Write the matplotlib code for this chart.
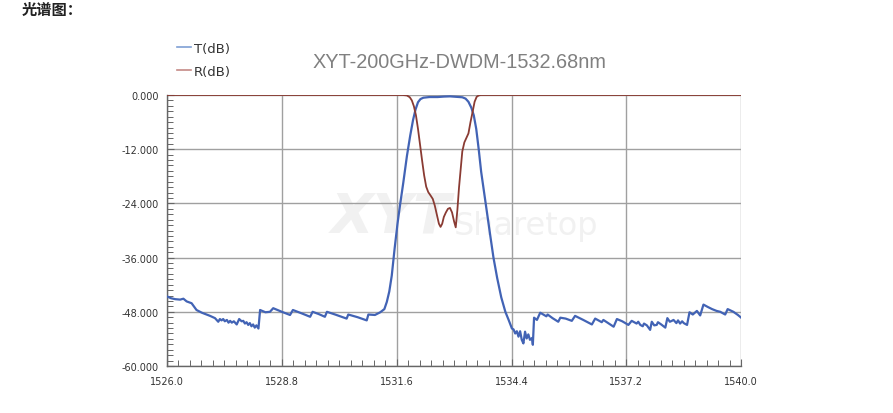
import matplotlib
matplotlib.use("Agg")
import matplotlib.pyplot as plt
from matplotlib.ticker import MultipleLocator, FormatStrFormatter
import numpy as np

# ---- data ----
t_wl = [1526.00, 1526.10, 1526.20, 1526.32, 1526.40, 1526.48, 1526.60, 1526.72, 1526.85,
        1527.05, 1527.17, 1527.25, 1527.29, 1527.33, 1527.37, 1527.41, 1527.46, 1527.50, 1527.54,
        1527.58, 1527.63, 1527.70, 1527.76, 1527.82, 1527.86, 1527.90, 1527.94, 1527.98,
        1528.02, 1528.06, 1528.10, 1528.14, 1528.18, 1528.23, 1528.27, 1528.40, 1528.51, 1528.59,
        1528.80, 1529.00, 1529.07, 1529.30, 1529.49, 1529.55, 1529.70, 1529.85, 1529.90,
        1530.10, 1530.38, 1530.42, 1530.65, 1530.87, 1530.91, 1531.07, 1531.20, 1531.30,
        1531.36, 1531.42, 1531.48, 1531.55, 1531.62, 1531.68, 1531.76, 1531.85, 1531.93,
        1532.00, 1532.06, 1532.12, 1532.18, 1532.25, 1532.40, 1532.60, 1532.75, 1532.90,
        1533.05, 1533.20, 1533.28, 1533.35, 1533.42, 1533.48, 1533.54, 1533.60, 1533.66,
        1533.73, 1533.80, 1533.88, 1533.96, 1534.05, 1534.15, 1534.25, 1534.33, 1534.41,
        1534.45, 1534.49, 1534.53, 1534.57, 1534.61, 1534.65, 1534.69, 1534.73, 1534.77,
        1534.81, 1534.85, 1534.90, 1534.92, 1534.95, 1535.02, 1535.10, 1535.25, 1535.28,
        1535.40, 1535.54, 1535.59, 1535.72, 1535.87, 1535.95, 1536.15, 1536.36, 1536.44,
        1536.60, 1536.64, 1536.89, 1536.97, 1537.10, 1537.25, 1537.33, 1537.45, 1537.49,
        1537.54, 1537.60, 1537.63, 1537.70, 1537.78, 1537.82, 1537.88, 1537.94, 1537.97,
        1538.05, 1538.15, 1538.20, 1538.26, 1538.31, 1538.35, 1538.42, 1538.46, 1538.51,
        1538.56, 1538.60, 1538.68, 1538.74, 1538.82, 1538.92, 1539.00, 1539.08, 1539.18,
        1539.29, 1539.40, 1539.49, 1539.61, 1539.67, 1539.81, 1539.92, 1540.00]
t_db = [-44.6, -45.0, -45.2, -45.3, -45.1, -45.7, -46.1, -47.6, -48.2,
        -48.9, -49.4, -50.2, -49.6, -49.9, -49.6, -50.1, -49.8, -50.4, -50.0,
        -50.4, -50.1, -50.8, -49.6, -50.1, -50.0, -50.6, -50.3, -50.9,
        -50.5, -51.2, -50.8, -51.5, -51.0, -51.7, -47.6, -48.1, -48.0, -47.2,
        -48.0, -48.7, -47.6, -48.4, -49.1, -48.0, -48.5, -49.1, -48.0,
        -48.6, -49.5, -48.6, -49.2, -49.9, -48.6, -48.7, -48.1, -47.4,
        -45.8, -43.5, -40.0, -34.0, -28.5, -24.5, -19.5, -13.5, -9.0,
        -5.5, -3.2, -1.6, -0.9, -0.6, -0.45, -0.45, -0.35, -0.3,
        -0.4, -0.5, -0.8, -1.5, -2.8, -4.5, -7.5, -12.0, -17.0,
        -21.5, -25.9, -31.0, -36.0, -40.5, -44.8, -48.0, -49.8, -51.7,
        -51.9, -52.8, -52.3, -53.5, -52.3, -54.2, -55.0, -52.4, -53.9,
        -53.0, -54.2, -53.8, -55.3, -49.3, -49.8, -48.2, -49.0, -48.6,
        -49.4, -50.2, -49.3, -49.5, -50.0, -48.9, -49.8, -50.8, -49.5,
        -50.3, -49.8, -51.3, -49.6, -50.1, -50.9, -50.0, -50.6, -50.2,
        -50.9, -51.2, -50.6, -51.0, -52.0, -50.2, -51.0, -50.9, -50.3,
        -50.8, -51.5, -49.4, -50.2, -50.0, -49.8, -50.5, -49.9, -50.6,
        -50.1, -50.5, -50.9, -48.1, -48.6, -47.8, -48.8, -46.4, -46.9,
        -47.4, -47.8, -48.0, -48.6, -47.4, -48.0, -48.7, -49.3]

r_wl = [1526.00, 1531.75, 1531.85, 1531.92, 1531.97, 1532.02, 1532.07, 1532.12, 1532.17,
        1532.22, 1532.27, 1532.32, 1532.37, 1532.43, 1532.48, 1532.53, 1532.58, 1532.63,
        1532.67, 1532.71, 1532.75, 1532.80, 1532.85, 1532.90, 1532.95, 1533.00, 1533.04,
        1533.08, 1533.12, 1533.16, 1533.20, 1533.25, 1533.30, 1533.35, 1533.40, 1533.45,
        1533.50, 1533.55, 1533.60, 1533.65, 1540.00]
r_db = [0.0, 0.0, -0.1, -0.5, -1.2, -2.5, -4.5, -7.5, -11.0,
        -14.5, -17.8, -20.3, -21.5, -22.3, -23.0, -24.5, -26.5, -28.5,
        -29.2, -28.5, -27.0, -26.0, -25.2, -25.0, -26.0, -28.0, -29.3,
        -25.5, -20.5, -16.5, -12.5, -10.5, -9.5, -8.5, -6.0, -3.8,
        -1.5, -0.4, -0.1, 0.0, 0.0]

x_ticks = [1526.0, 1528.8, 1531.6, 1534.4, 1537.2, 1540.0]
y_ticks = [0.0, -12.0, -24.0, -36.0, -48.0, -60.0]
title = "XYT-200GHz-DWDM-1532.68nm"
series_names = ["T(dB)", "R(dB)"]

# ---- figure ----
fig = plt.figure(figsize=(8.93, 4.14), dpi=100)
fig.patch.set_facecolor("white")
ax = fig.add_axes([0.187, 0.1135, 0.643, 0.6546])

ax.text(0.495, 0.55, "XYT", transform=ax.transAxes, fontsize=40, fontweight="bold",
        fontstyle="italic", color="#f1f1f1", ha="right", va="center", zorder=0.5)
ax.text(0.500, 0.52, "Sharetop", transform=ax.transAxes, fontsize=23,
        color="#f1f1f1", ha="left", va="center", zorder=0.5)

lt, = ax.plot(t_wl, t_db, color="#4263b5", lw=1.6, zorder=3, label=series_names[0])
lr, = ax.plot(r_wl, r_db, color="#8a3b33", lw=1.3, zorder=4, label=series_names[1])

ax.set_xlim(1526.0, 1540.0)
ax.set_ylim(-60.0, 0.0)
ax.set_xticks(x_ticks)
ax.set_yticks(y_ticks)
ax.xaxis.set_major_formatter(FormatStrFormatter("%.1f"))
ax.yaxis.set_major_formatter(FormatStrFormatter("%.3f"))
ax.xaxis.set_minor_locator(MultipleLocator(0.28))
ax.yaxis.set_minor_locator(MultipleLocator(1.2))
ax.tick_params(which="both", direction="in", colors="#666666", labelcolor="#333333",
               labelsize=7)
ax.tick_params(which="major", length=5, width=0.8, pad=7)
ax.tick_params(which="minor", length=4, width=0.7)
ax.tick_params(axis="y", which="major", pad=6)
ax.grid(True, which="major", color="#a0a0a0", lw=1.0)
ax.set_axisbelow(True)
for s in ["top", "right"]:
    ax.spines[s].set_visible(False)
for s in ["left", "bottom"]:
    ax.spines[s].set_color("#666666")
    ax.spines[s].set_linewidth(1.0)

fig.text(0.514, 0.850, title, fontsize=14.3, color="#808080", ha="center", va="center",
         family="Liberation Sans")

leg = fig.legend(handles=[lt, lr], loc="upper left", bbox_to_anchor=(0.198, 0.897),
                 frameon=False, fontsize=9.5, handlelength=1.1, handletextpad=0.2,
                 labelspacing=0.75, borderaxespad=0, borderpad=0)
for line, c in zip(leg.get_lines(), ["#7f9fd4", "#c58a86"]):
    line.set_linewidth(1.2)
    line.set_color(c)
for t in leg.get_texts():
    t.set_color("#333333")

fig.text(0.024, 0.976, "光谱图：", fontsize=11, fontweight="bold", color="#222222",
         ha="left", va="center", family=["Noto Sans CJK SC", "DejaVu Sans"])

fig.savefig("out.png", dpi=100, facecolor="white")
